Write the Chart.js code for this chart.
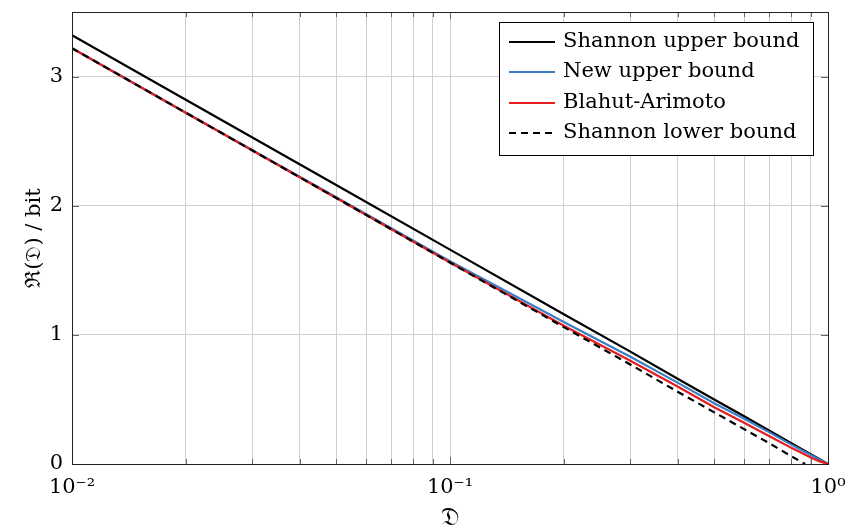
<!DOCTYPE html>
<html>
<head>
<meta charset="utf-8">
<script src="https://cdn.jsdelivr.net/npm/chart.js@4.4.1/dist/chart.umd.min.js"></script>
<style>
  html, body { margin: 0; background: #fff; }
</style>
</head>
<body>
<canvas id="rdChart" width="848" height="530"></canvas>
<script>
// distortion values (x)
const distortion = [0.01, 0.02, 0.05, 0.1, 0.2, 0.3, 0.4, 0.5, 0.6, 0.7, 0.8, 0.9, 0.95, 1];
const shannonUpper = [3.32, 2.82, 2.16, 1.66, 1.16, 0.87, 0.66, 0.50, 0.37, 0.257, 0.161, 0.076, 0.037, 0];
const newUpper = [3.22, 2.72, 2.065, 1.57, 1.10, 0.83, 0.63, 0.47, 0.35, 0.245, 0.15, 0.07, 0.034, 0];
const blahutArimoto = [3.22, 2.72, 2.06, 1.56, 1.07, 0.80, 0.60, 0.44, 0.32, 0.215, 0.125, 0.05, 0.02, 0];
// lower bound hits zero before D = 1
const lowerD = [0.01, 0.02, 0.05, 0.1, 0.2, 0.3, 0.4, 0.5, 0.6, 0.7, 0.8, 0.87];
const shannonLower = [3.22, 2.72, 2.06, 1.56, 1.06, 0.77, 0.56, 0.40, 0.27, 0.16, 0.06, 0];

const xGrid = [0.01, 0.02, 0.03, 0.04, 0.05, 0.06, 0.07, 0.08, 0.09,
               0.1, 0.2, 0.3, 0.4, 0.5, 0.6, 0.7, 0.8, 0.9, 1];
const xMajor = [0.01, 0.1, 1];
const xMajorLabels = ['10\u207B\u00B2', '10\u207B\u00B9', '10\u2070'];
const yTicks = [0, 1, 2, 3];

const FONT = { family: 'DejaVu Serif', size: 21 };
const FONT_CSS = '21px "DejaVu Serif"';

const pts = (xs, ys) => xs.map((x, i) => ({ x: x, y: ys[i] }));

// axis frame and inward tick marks (pgfplots style)
const frame = {
  id: 'frame',
  afterDatasetsDraw(chart) {
    const { ctx, chartArea: a, scales } = chart;
    ctx.save();
    ctx.strokeStyle = '#666';
    ctx.lineWidth = 1;
    ctx.beginPath();
    xGrid.forEach(v => {
      const px = Math.round(scales.x.getPixelForValue(v)) + 0.5;
      const len = xMajor.includes(v) ? 7 : 5;
      ctx.moveTo(px, a.bottom); ctx.lineTo(px, a.bottom - len);
      ctx.moveTo(px, a.top); ctx.lineTo(px, a.top + len);
    });
    yTicks.forEach(v => {
      const py = Math.round(scales.y.getPixelForValue(v)) + 0.5;
      ctx.moveTo(a.left, py); ctx.lineTo(a.left + 7, py);
      ctx.moveTo(a.right, py); ctx.lineTo(a.right - 7, py);
    });
    ctx.stroke();
    ctx.strokeStyle = '#222';
    ctx.strokeRect(Math.round(a.left) + 0.5, Math.round(a.top) + 0.5,
                   Math.round(a.right - a.left), Math.round(a.bottom - a.top));
    ctx.restore();
  }
};

// legend inside the plot, top right, with a box
const boxLegend = {
  id: 'boxLegend',
  afterDraw(chart) {
    const { ctx, chartArea: a } = chart;
    const items = chart.data.datasets;
    ctx.save();
    ctx.font = FONT_CSS;
    const textW = Math.max(...items.map(d => ctx.measureText(d.label).width));
    const w = 64 + textW + 14;
    const h = 20 + (items.length - 1) * 30.4 + 22;
    const x = Math.round(a.right - 15 - w), y = Math.round(a.top + 10);
    ctx.fillStyle = '#fff';
    ctx.fillRect(x, y, w, h);
    ctx.strokeStyle = '#000';
    ctx.lineWidth = 1;
    ctx.strokeRect(x + 0.5, y + 0.5, Math.round(w), Math.round(h));
    items.forEach((d, i) => {
      const cy = Math.round(y + 20 + i * 30.4);
      ctx.beginPath();
      ctx.setLineDash(d.borderDash || []);
      ctx.strokeStyle = d.borderColor;
      ctx.lineWidth = d.borderWidth;
      ctx.moveTo(x + 10, cy);
      ctx.lineTo(x + 56, cy);
      ctx.stroke();
      ctx.setLineDash([]);
      ctx.fillStyle = '#000';
      ctx.textBaseline = 'middle';
      ctx.fillText(d.label, x + 64, cy);
    });
    ctx.restore();
  }
};

new Chart(document.getElementById('rdChart'), {
  type: 'scatter',
  data: {
    datasets: [
      { label: 'Shannon upper bound', data: pts(distortion, shannonUpper),
        borderColor: '#000', borderWidth: 2.2, order: 3 },
      { label: 'New upper bound', data: pts(distortion, newUpper),
        borderColor: '#3a7fc4', borderWidth: 2.2, order: 2 },
      { label: 'Blahut-Arimoto', data: pts(distortion, blahutArimoto),
        borderColor: '#e41e20', borderWidth: 2.2, order: 1 },
      { label: 'Shannon lower bound', data: pts(lowerD, shannonLower),
        borderColor: '#000', borderWidth: 2.2, borderDash: [7, 5], order: 0 }
    ]
  },
  options: {
    responsive: false,
    animation: false,
    showLine: true,
    elements: { point: { radius: 0 }, line: { tension: 0, fill: false } },
    layout: { padding: { top: 12, right: 20, left: 0, bottom: 0 } },
    plugins: { legend: { display: false }, tooltip: { enabled: false } },
    scales: {
      x: {
        type: 'logarithmic',
        min: 0.01,
        max: 1,
        afterBuildTicks: s => { s.ticks = xGrid.map(v => ({ value: v })); },
        afterFit: s => { s.height = 66; s.paddingLeft = 0; s.paddingRight = 0; },
        ticks: {
          autoSkip: false, maxRotation: 0, padding: 11, color: '#000', font: FONT,
          callback: v => {
            const k = xMajor.findIndex(m => Math.abs(m - v) < 1e-9);
            return k >= 0 ? xMajorLabels[k] : '';
          }
        },
        grid: { color: '#cfcfcf', drawTicks: false, tickLength: 0 },
        border: { display: false },
        title: { display: true, text: '\uD835\uDD07', color: '#000',
                 font: { family: 'DejaVu Serif', size: 25 },
                 padding: { top: 0, bottom: -3 } }
      },
      y: {
        min: 0,
        max: 3.5,
        afterBuildTicks: s => { s.ticks = yTicks.map(v => ({ value: v })); },
        afterFit: s => { s.width = 72; s.paddingTop = 0; s.paddingBottom = 0; },
        ticks: { padding: 9, color: '#000', font: FONT },
        grid: { color: '#cfcfcf', drawTicks: false, tickLength: 0 },
        border: { display: false },
        title: { display: true, text: '\u211C(\uD835\uDD07) / bit', color: '#000', font: FONT,
                 padding: { top: 22, bottom: 0 } }
      }
    }
  },
  plugins: [frame, boxLegend]
});
</script>
</body>
</html>
